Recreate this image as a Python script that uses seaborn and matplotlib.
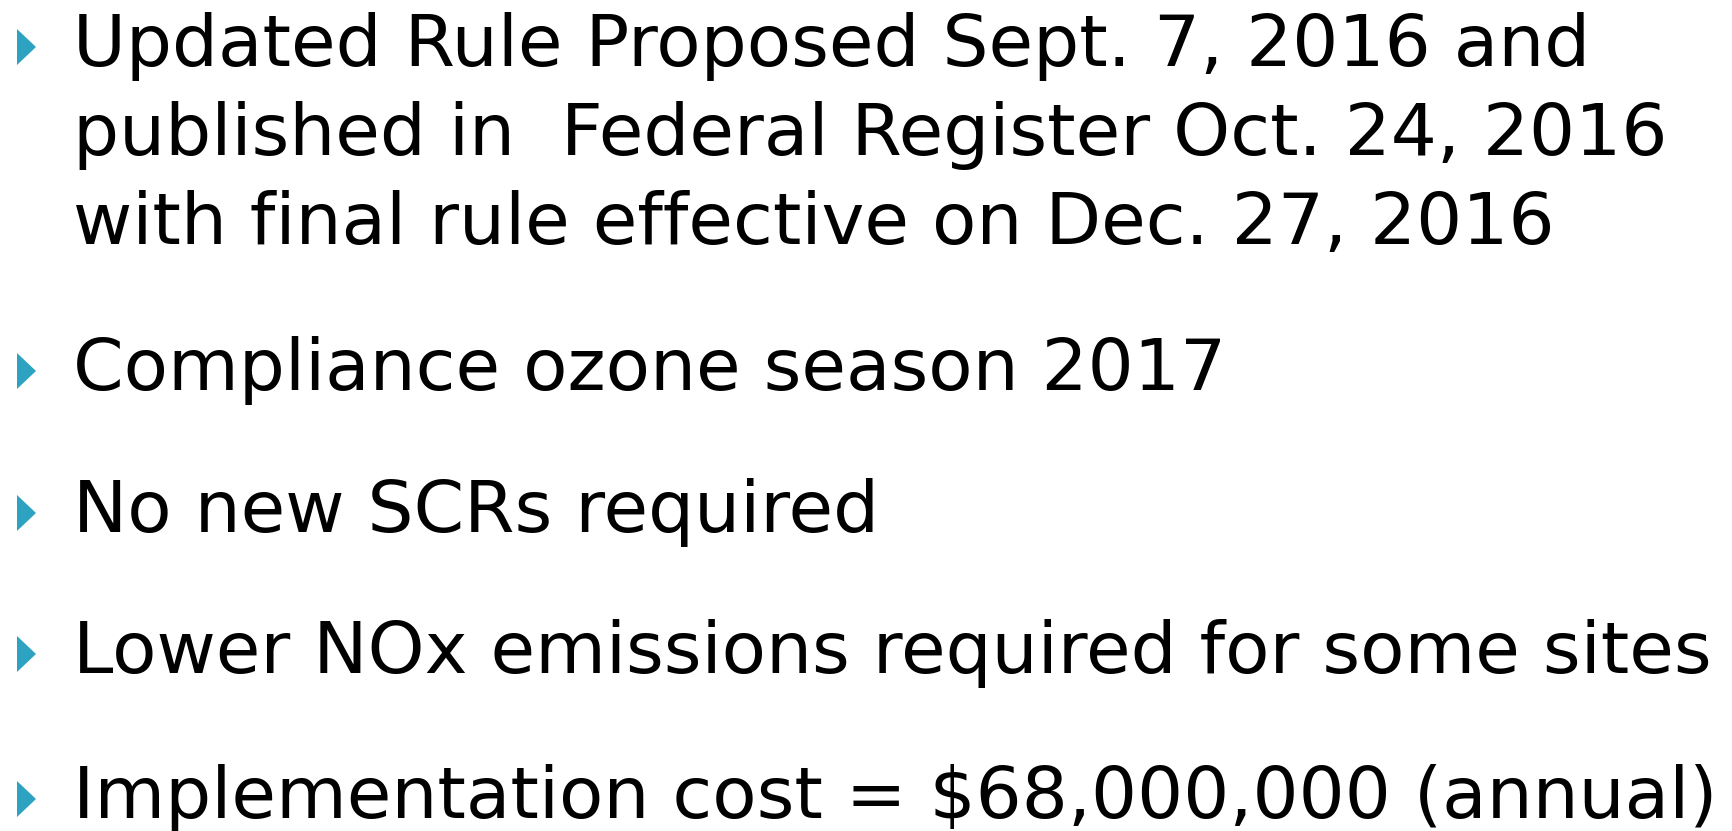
import matplotlib
matplotlib.use("Agg")
import matplotlib.pyplot as plt
import seaborn as sns
from matplotlib.patches import Polygon

# ---- content ----
bullets = [
    ["Updated Rule Proposed Sept. 7, 2016 and",
     "published in  Federal Register Oct. 24, 2016",
     "with final rule effective on Dec. 27, 2016"],
    ["Compliance ozone season 2017"],
    ["No new SCRs required"],
    ["Lower NOx emissions required for some sites"],
    ["Implementation cost = $68,000,000 (annual)"],
]
bullet_color = "#2DA3C1"
text_color = "#000000"

sns.set_theme(style="white")
plt.rcParams['font.family'] = ['DejaVu Sans']

W, H = 1732, 831
fig = plt.figure(figsize=(W / 100, H / 100), dpi=100)
ax = fig.add_axes([0, 0, 1, 1])
ax.set_xlim(0, W)
ax.set_ylim(H, 0)
ax.axis("off")

# layout (pixel units)
text_x = 73
first_baselines = [66, 390, 532, 673, 818]
line_gap = 89
target_width = 1712 - 73  # width of the longest line

# fit font size to target width
fig.canvas.draw()
r = fig.canvas.get_renderer()
probe = ax.text(0, 0, "Lower NOx emissions required for some sites", fontsize=50)
w = probe.get_window_extent(r).width
probe.remove()
fs = 50 * target_width / w

for lines, b0 in zip(bullets, first_baselines):
    tri = Polygon([(17, b0 - 37), (36, b0 - 19), (17, b0 - 1)], closed=True,
                  facecolor=bullet_color, edgecolor="none")
    ax.add_patch(tri)
    for i, ln in enumerate(lines):
        ax.text(text_x, b0 + i * line_gap, ln, fontsize=fs, color=text_color,
                va="baseline", ha="left")

fig.savefig("out.png", dpi=100, facecolor="white")
